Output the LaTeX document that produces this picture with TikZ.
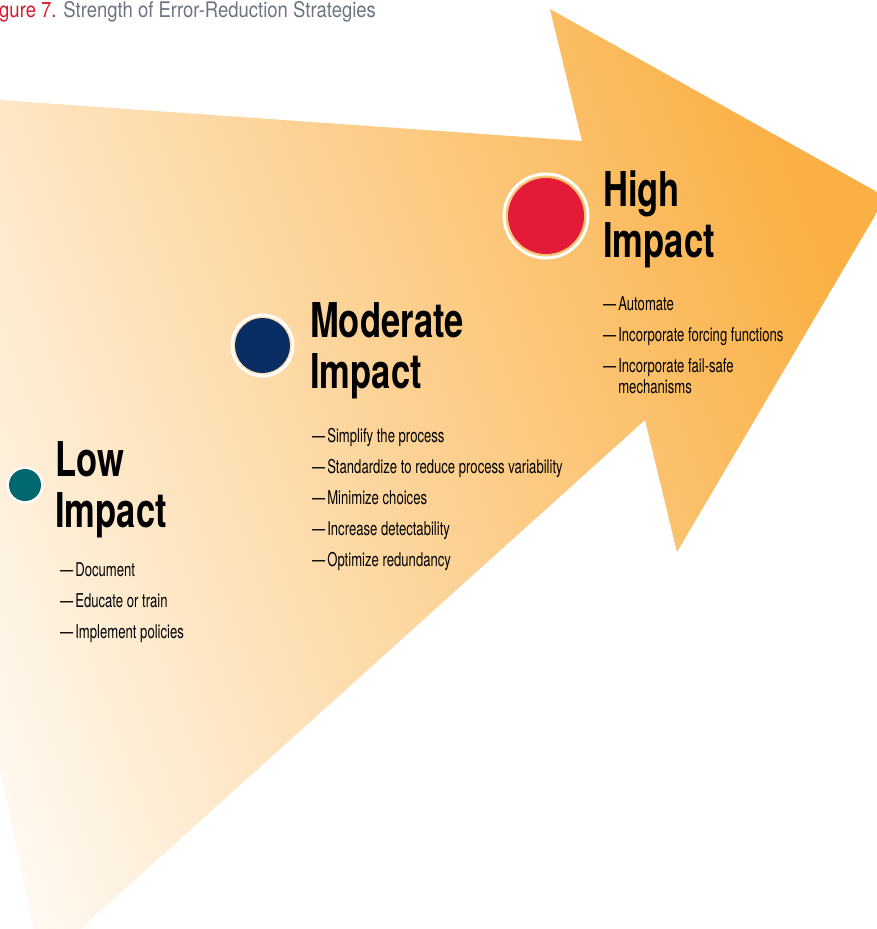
\documentclass[tikz,border=0pt]{standalone}
\usepackage{fontspec}
\setmainfont{TeX Gyre Heros}
\newfontfamily\headfont{TeX Gyre Heros}[FakeStretch=0.72]
\newfontfamily\itemfont{TeX Gyre Heros}[FakeStretch=0.69]
\newfontfamily\titlefont{TeX Gyre Heros}[FakeStretch=0.86]
\usetikzlibrary{positioning}

\definecolor{arrowtip}{RGB}{250,176,68}
\definecolor{arrowmid}{RGB}{253,212,158}
\definecolor{arrowtail}{RGB}{255,252,248}
\definecolor{highred}{RGB}{227,26,56}
\definecolor{modnavy}{RGB}{8,45,98}
\definecolor{lowteal}{RGB}{0,104,110}
\definecolor{figred}{RGB}{215,25,45}
\definecolor{titlegrey}{RGB}{108,116,128}

\begin{document}
\begin{tikzpicture}[x=1pt, y=-1pt]
        % styles
        \tikzstyle{heading} = [anchor=base west, inner sep=0pt, align=left, font=\headfont\bfseries\fontsize{48}{51}\selectfont]
        \tikzstyle{items} = [anchor=base west, inner sep=0pt, align=left, font=\itemfont\fontsize{19}{21}\selectfont]
        \tikzstyle{dot} = [circle, inner sep=0pt]
        \tikzstyle{ring} = [draw=white]

        \useasboundingbox (0,0) rectangle (877,929);
        \clip (0,0) rectangle (877,929);

        % arrow
        \shade[top color=arrowtip, middle color=arrowmid, bottom color=arrowtail, shading angle=-70]
          (-143,90) -- (582,141) -- (550,9) -- (886,197) -- (677,552) -- (645,420)
          -- (46,960) -- (40,960) -- cycle;

        % title
        \node[anchor=base west, inner sep=0pt, font=\titlefont\fontsize{21.5}{21.5}\selectfont] (title) at (-1,17)
          {\textcolor{figred}{gure 7.} \textcolor{titlegrey}{Strength of Error-Reduction Strategies}};

        % high (nodes sit on the baseline of their last line)
        \node[dot, fill=highred, minimum size=76pt] (highdot) at (546,216) {};
        \draw[ring, line width=3pt] (highdot.center) circle (42pt);
        \node[heading] (high) at (603,257) {High\\Impact};
        \node[items] (highlist) at (603,393)
          {—\hspace{2pt}Automate\\[10pt]
           —\hspace{2pt}Incorporate forcing functions\\[10pt]
           —\hspace{2pt}Incorporate fail-safe\\
           \phantom{—}\hspace{2pt}mechanisms};

        % moderate
        \node[dot, fill=modnavy, minimum size=55pt] (moddot) at (262.5,345.5) {};
        \draw[ring, line width=3pt] (moddot.center) circle (30.5pt);
        \node[heading] (moderate) at (310,388) {Moderate\\Impact};
        \node[items] (modlist) at (312,566)
          {—\hspace{2pt}Simplify the process\\[10pt]
           —\hspace{2pt}Standardize to reduce process variability\\[10pt]
           —\hspace{2pt}Minimize choices\\[10pt]
           —\hspace{2pt}Increase detectability\\[10pt]
           —\hspace{2pt}Optimize redundancy};

        % low
        \node[dot, fill=lowteal, minimum size=32pt] (lowdot) at (25,485) {};
        \draw[ring, line width=2pt] (lowdot.center) circle (17.5pt);
        \node[heading] (low) at (55,527) {Low\\Impact};
        \node[items] (lowlist) at (60,638)
          {—\hspace{2pt}Document\\[10pt]
           —\hspace{2pt}Educate or train\\[10pt]
           —\hspace{2pt}Implement policies};
    \end{tikzpicture}
\end{document}
